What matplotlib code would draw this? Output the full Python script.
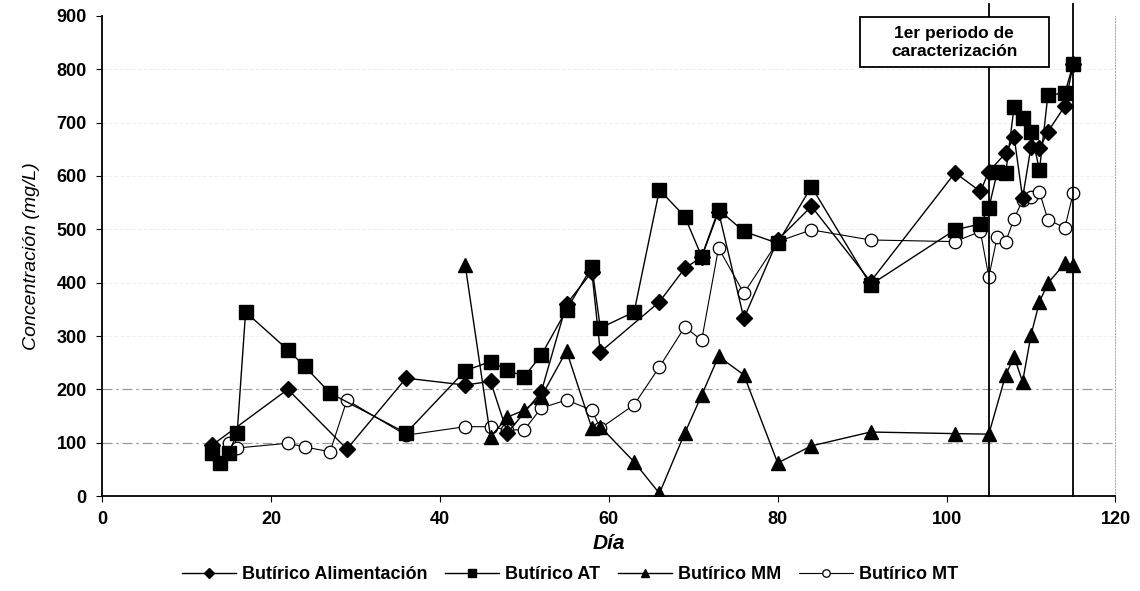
import numpy as np
import matplotlib
matplotlib.use("Agg")
import matplotlib.pyplot as plt
from matplotlib.patches import Rectangle

plt.rcParams['font.family'] = ['Liberation Sans', 'DejaVu Sans']

# Butirico Alimentacion (diamantes)
dia_alim = [13, 22, 29, 36, 43, 46, 48, 52, 55, 58, 59, 66, 69, 71, 73, 76, 80, 84, 91,
            101, 104, 105, 107, 108, 109, 110, 111, 112, 114, 115]
but_alim = [95, 200, 88, 221, 208, 215, 118, 195, 360, 420, 270, 364, 427, 448, 533, 333, 480, 543, 402,
            606, 571, 608, 643, 673, 559, 655, 652, 683, 731, 810]

# Butirico AT (cuadrados)
dia_at = [13, 14, 15, 16, 17, 22, 24, 27, 36, 43, 46, 48, 50, 52, 55, 58, 59, 63, 66, 69, 71, 73, 76, 80, 84, 91,
          101, 104, 105, 106, 107, 108, 109, 110, 111, 112, 114, 115]
but_at = [80, 62, 80, 118, 345, 274, 243, 193, 118, 235, 252, 236, 224, 264, 349, 430, 315, 345, 574, 524, 449,
          537, 496, 474, 580, 396, 499, 510, 540, 607, 605, 730, 709, 683, 611, 752, 755, 810]

# Butirico MM (triangulos)
dia_mm = [43, 46, 48, 50, 52, 55, 58, 59, 63, 66, 69, 71, 73, 76, 80, 84, 91,
          101, 105, 107, 108, 109, 110, 111, 112, 114, 115]
but_mm = [433, 111, 148, 161, 186, 272, 127, 130, 64, 5, 118, 189, 262, 227, 62, 94, 120,
          117, 116, 227, 261, 214, 302, 364, 399, 436, 433]

# Butirico MT (circulos)
dia_mt = [15, 16, 22, 24, 27, 29, 36, 43, 46, 48, 50, 52, 55, 58, 59, 63, 66, 69, 71, 73, 76, 80, 84, 91,
          101, 104, 105, 106, 107, 108, 109, 110, 111, 112, 114, 115]
but_mt = [100, 90, 99, 92, 83, 180, 114, 130, 130, 124, 124, 165, 180, 161, 127, 171, 242, 317, 292, 465, 380,
          477, 499, 480, 477, 496, 411, 486, 477, 520, 555, 560, 570, 518, 503, 568]

periodo = [105, 115]

fig = plt.figure(figsize=(11.4, 5.91), dpi=100)
ax = fig.add_axes([0.0895, 0.1607, 0.889, 0.8123])

# lineas de cuadricula tenues
for yv in [100, 200]:
    ax.axhline(yv, color='#9a9a9a', lw=0.9, ls=(0, (8, 3, 2, 3)), zorder=0)
for yv in [300, 400, 500, 600, 700, 800]:
    ax.axhline(yv, color='#f0f0f0', lw=0.8, ls='--', zorder=0)

ax.plot(dia_alim, but_alim, color='black', lw=1.0, marker='D', ms=8, mfc='black', mec='black',
        label='Butírico Alimentación', zorder=4)
ax.plot(dia_at, but_at, color='black', lw=1.0, marker='s', ms=10, mfc='black', mec='black',
        label='Butírico AT', zorder=3)
ax.plot(dia_mm, but_mm, color='black', lw=1.0, marker='^', ms=10, mfc='black', mec='black',
        label='Butírico MM', zorder=3)
ax.plot(dia_mt, but_mt, color='black', lw=0.8, marker='o', ms=9, mfc='white', mec='black', mew=0.9,
        label='Butírico MT', zorder=2)

for xv in periodo:
    ax.plot([xv, xv], [0, 922], color='black', lw=1.3, clip_on=False, zorder=5)

# recuadro del periodo de caracterizacion
ax.add_patch(Rectangle((89.7, 804), 22.4, 94, fc='white', ec='black', lw=1.3, zorder=6, clip_on=False))
ax.text(100.9, 851, '1er periodo de\ncaracterización', ha='center', va='center', fontsize=12.5,
        fontweight='bold', linespacing=1.25, zorder=7)

ax.set_xlim(0, 120)
ax.set_ylim(0, 900)
ax.set_xticks(np.arange(0, 121, 20))
ax.set_yticks(np.arange(0, 901, 100))
ax.tick_params(axis='both', labelsize=13, direction='out', length=4, width=0.8, pad=7)
for lbl in ax.get_xticklabels() + ax.get_yticklabels():
    lbl.set_fontweight('bold')

ax.spines['top'].set_visible(False)
ax.spines['right'].set_color('#b0b0b0')
ax.spines['right'].set_linestyle(':')
ax.spines['left'].set_linewidth(1.3)
ax.spines['bottom'].set_linewidth(1.3)

ax.set_xlabel('Día', fontsize=15, fontweight='bold', fontstyle='italic', labelpad=4)
ax.set_ylabel('Concentración (mg/L)', fontsize=14, fontstyle='italic', labelpad=12)

fig.legend(loc='lower center', bbox_to_anchor=(0.5, -0.014), ncol=4, frameon=False,
           prop={'size': 13, 'weight': 'bold'}, handlelength=3.0, columnspacing=1.0,
           handletextpad=0.3, markerscale=0.6)

fig.savefig('out.png', dpi=100)
